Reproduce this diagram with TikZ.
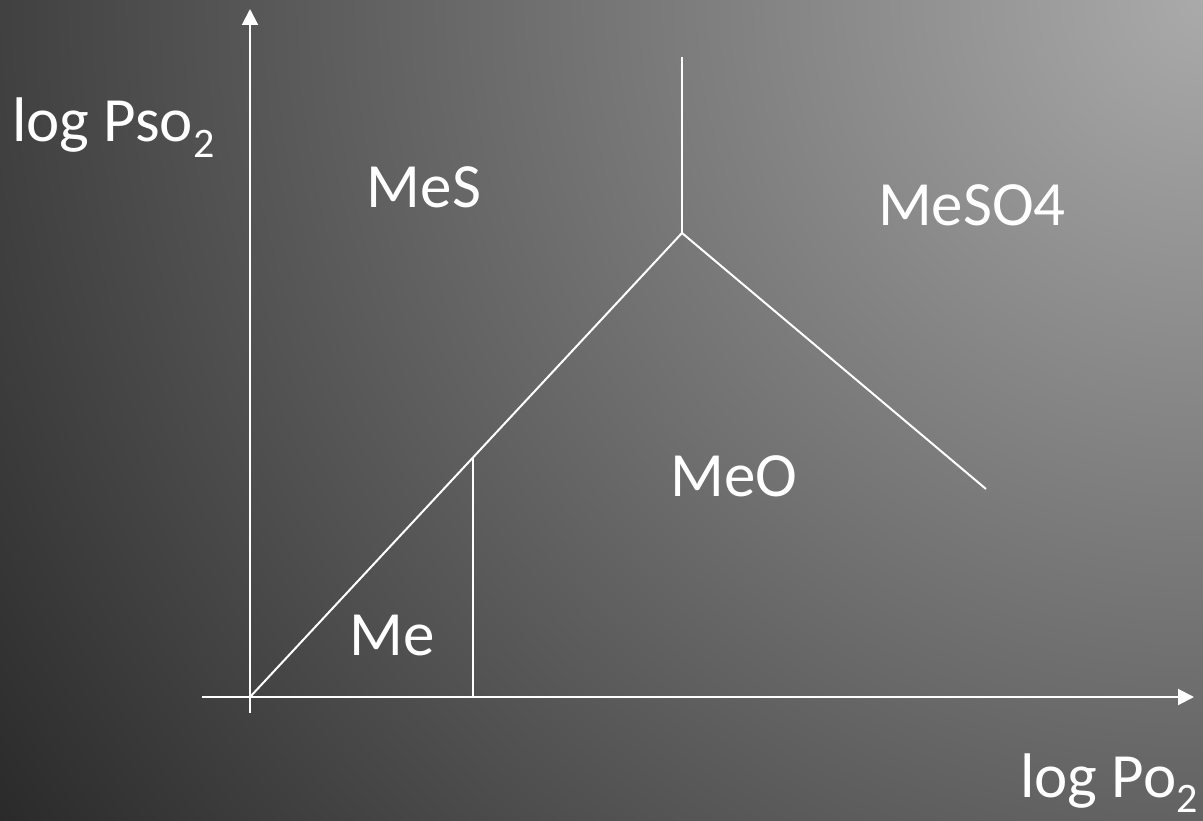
\documentclass[tikz,border=0pt]{standalone}
\usepackage{fontspec}
\setmainfont{Carlito}
\usetikzlibrary{arrows.meta}
\definecolor{bglight}{RGB}{170,170,170}
\definecolor{bgdark}{RGB}{34,34,34}
\pgfdeclareradialshading{bgshade}{\pgfpoint{0bp}{0bp}}{color(0bp)=(bglight); color(25bp)=(bgdark); color(50bp)=(bgdark)}
\newcommand{\subtwo}{\raisebox{-0.24em}{\fontsize{42}{42}\selectfont 2}}
\tikzset{
  ln/.style={draw=white, line width=2pt},
  axis/.style={ln, -{Triangle[length=16pt,width=16pt]}},
  lbl/.style={text=white, font=\fontsize{63}{66}\selectfont, inner sep=0pt}
}
\begin{document}
\begin{tikzpicture}[x=1pt,y=-1pt]
\useasboundingbox (0,0) rectangle (1203,821);
\begin{scope}
\clip (0,0) rectangle (1203,821);
\shade[shading=bgshade] (1203,0) circle (1550);
\end{scope}
% coordinates
\coordinate (O) at (250,697);
\coordinate (Ybot) at (250,713);
\coordinate (Ytop) at (250,9);
\coordinate (Xleft) at (202,697);
\coordinate (Xright) at (1194,697);
\coordinate (T) at (682,233);
\coordinate (Ttop) at (682,57);
\coordinate (R) at (986,489);
\coordinate (M) at (473,457);
\coordinate (Mb) at (473,697);
% axes
\draw[axis] (Ybot) -- (Ytop);
\draw[axis] (Xleft) -- (Xright);
% phase boundaries
\draw[ln] (O) -- (T);
\draw[ln] (T) -- (Ttop);
\draw[ln] (T) -- (R);
\draw[ln] (M) -- (Mb);
% labels
\node[lbl, anchor=base west] (ylab) at (12,142) {log Pso\subtwo};
\node[lbl, anchor=base west] (xlab) at (1020,797) {log Po\subtwo};
\node[lbl] (mes) at (424,187) {MeS};
\node[lbl] (meso4) at (972,205) {MeSO4};
\node[lbl] (meo) at (734,476) {MeO};
\node[lbl] (me) at (392,636) {Me};
\end{tikzpicture}
\end{document}
